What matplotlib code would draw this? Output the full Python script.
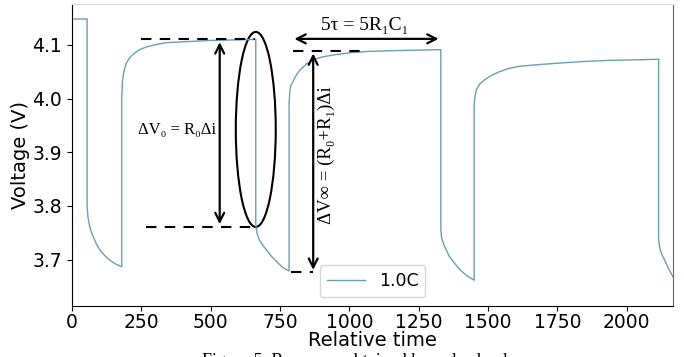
import matplotlib.pyplot as plt
from matplotlib.patches import Ellipse

# pulse test, relative time vs terminal voltage
t_rel = [0, 55, 55, 58, 63, 70, 77, 88, 101, 118, 137, 158, 180,
         180, 182, 186, 191, 197, 206, 216, 227, 245, 269, 300, 341, 420, 497, 580, 663,
         663, 667, 675, 688, 702, 720, 743, 762, 783,
         783, 786, 790, 795, 805, 822, 845, 870, 900, 942, 1000, 1062, 1150, 1250, 1330,
         1330, 1333, 1344, 1360, 1380, 1400, 1422, 1450,
         1450, 1452, 1458, 1470, 1488, 1512, 1542, 1575, 1614, 1680, 1759, 1850, 1939, 2030, 2115,
         2115, 2120, 2128, 2137, 2150, 2167]
volt = [4.148, 4.148, 3.80, 3.78, 3.765, 3.752, 3.743, 3.73, 3.718, 3.708, 3.699, 3.692, 3.687,
        4.00, 4.03, 4.045, 4.057, 4.066, 4.074, 4.080, 4.085, 4.091, 4.096, 4.100, 4.104, 4.106, 4.108, 4.109, 4.110,
        3.765, 3.750, 3.738, 3.727, 3.718, 3.706, 3.694, 3.685, 3.679,
        3.99, 4.015, 4.025, 4.029, 4.040, 4.053, 4.064, 4.072, 4.077, 4.081, 4.085, 4.0875, 4.089, 4.090, 4.091,
        3.755, 3.740, 3.724, 3.707, 3.693, 3.681, 3.671, 3.662,
        3.985, 4.000, 4.016, 4.027, 4.035, 4.043, 4.050, 4.056, 4.060, 4.063, 4.066, 4.069, 4.071, 4.072, 4.073,
        3.737, 3.720, 3.708, 3.699, 3.684, 3.668]

xticks = [0, 250, 500, 750, 1000, 1250, 1500, 1750, 2000]
yticks = [3.7, 3.8, 3.9, 4.0, 4.1]

serif = ["Liberation Serif", "DejaVu Serif"]

fig = plt.figure(figsize=(6.84, 3.57), dpi=100)
ax = fig.add_axes([0.105, 0.143, 0.879, 0.846])

ax.plot(t_rel, volt, color="#6a9fb0", lw=1.0, label="1.0C")

ax.set_xlim(0, 2167)
ax.set_ylim(3.614, 4.176)
ax.set_xticks(xticks)
ax.set_yticks(yticks)
ax.tick_params(labelsize=13.5)
ax.tick_params(axis="x", pad=1.5)
ax.set_xlabel("Relative time", fontsize=14, labelpad=-1)
ax.set_ylabel("Voltage (V)", fontsize=14, labelpad=2)
ax.spines["top"].set_color("#dddddd")
ax.spines["right"].set_color("#666666")

leg = ax.legend(loc="lower center", fontsize=12.5, handlelength=2.2, borderaxespad=0.5)

# annotations
dash = dict(color="black", lw=1.5, ls=(0, (5, 4)))
ax.plot([251, 660], [4.110, 4.110], **dash)
ax.plot([269, 665], [3.761, 3.761], **dash)
ax.plot([797, 1045], [4.089, 4.089], **dash)
ax.plot([790, 870], [3.677, 3.677], **dash)

arr = dict(arrowstyle="<->", color="black", lw=1.6, mutation_scale=16)
ax.annotate("", xy=(533, 4.110), xytext=(533, 3.761), arrowprops=arr)
ax.annotate("", xy=(870, 4.089), xytext=(870, 3.676), arrowprops=arr)
ax.annotate("", xy=(792, 4.111), xytext=(1332, 4.111), arrowprops=arr)

ax.add_patch(Ellipse((663, 3.9425), width=144, height=0.363, fill=False, color="black", lw=1.5))

ax.text(380, 3.942, "ΔV₀ = R₀Δi", family=serif, fontsize=12, ha="center", va="center")
ax.text(919, 3.895, "ΔV∞ = (R₀+R₁)Δi", family=serif, fontsize=13.5, ha="center", va="center",
        rotation=90)
ax.text(1056, 4.135, "5τ = 5R₁C₁", family=serif, fontsize=14, ha="center", va="center")

fig.text(0.518, 0.011, "Figure 5. Response obtained by pulse load", family=serif,
         fontsize=13, ha="center", va="top")

fig.savefig("out.png", dpi=100)
